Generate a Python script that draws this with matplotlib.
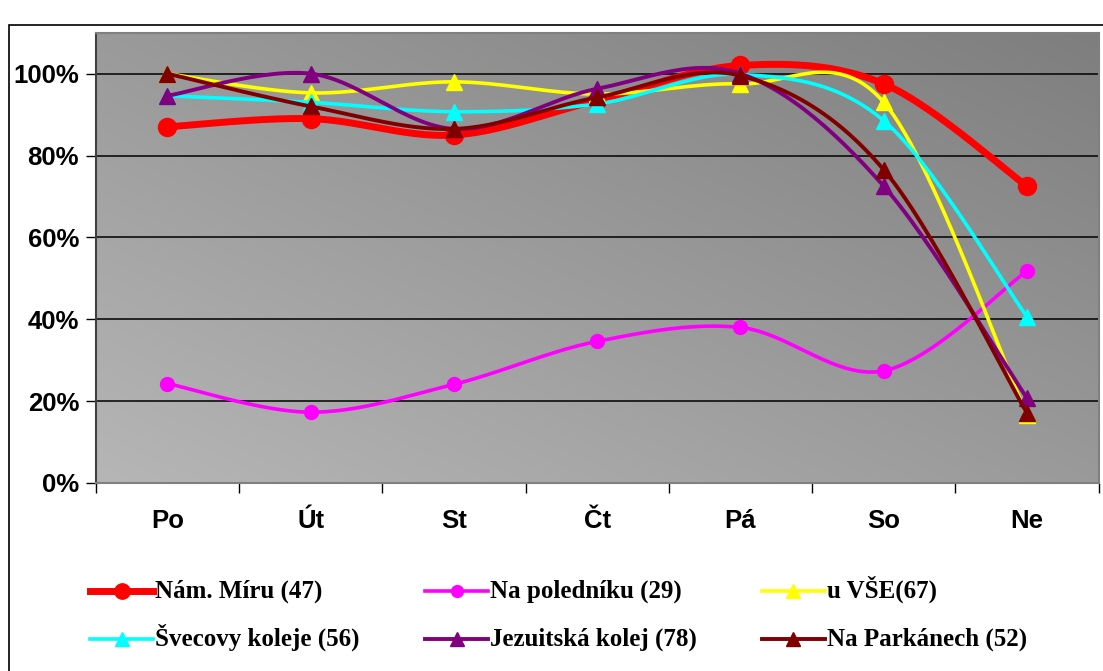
import numpy as np
import matplotlib
matplotlib.use('Agg')
from matplotlib import pyplot as plt
from matplotlib.patches import Rectangle
from matplotlib.lines import Line2D

plt.rcParams['font.family'] = ['Liberation Sans', 'DejaVu Sans']

days = ['Po', 'Út', 'St', 'Čt', 'Pá', 'So', 'Ne']

nam_miru = [87, 89, 85, 93.5, 102, 97.5, 72.5]
na_poledniku = [24.3, 17.3, 24.1, 34.6, 38, 27.4, 51.8]
u_vse = [100, 95.3, 98, 95, 97.5, 93, 16.5]
svecovy = [94.6, 93, 90.7, 92.6, 99.8, 88.5, 40.6]
jezuitska = [94.6, 100, 86.5, 96.3, 100, 72.5, 20.7]
parkanech = [100, 92, 86.5, 94.2, 99.5, 76.5, 17]

series = [
    ('Nám. Míru (47)', nam_miru, '#ff0000', 'o', 5.0, 13),
    ('Na poledníku (29)', na_poledniku, '#ff00ff', 'o', 2.6, 10),
    ('u VŠE(67)', u_vse, '#ffff00', '^', 2.6, 12),
    ('Švecovy koleje (56)', svecovy, '#00ffff', '^', 2.6, 12),
    ('Jezuitská kolej (78)', jezuitska, '#800080', '^', 2.8, 12),
    ('Na Parkánech (52)', parkanech, '#800000', '^', 2.8, 12),
]

W, H = 1103, 671


def smooth(x, y, n=30):
    # excel-like smoothed line: catmull-rom segments as cubic bezier
    x = np.asarray(x, dtype=float)
    y = np.asarray(y, dtype=float)
    px, py = [], []
    t = np.linspace(0, 1, n)
    for i in range(len(x) - 1):
        i0 = max(i - 1, 0)
        i3 = min(i + 2, len(x) - 1)
        c1x = x[i] + (x[i + 1] - x[i0]) / 6
        c1y = y[i] + (y[i + 1] - y[i0]) / 6
        c2x = x[i + 1] - (x[i3] - x[i]) / 6
        c2y = y[i + 1] - (y[i3] - y[i]) / 6
        bx = (1 - t) ** 3 * x[i] + 3 * (1 - t) ** 2 * t * c1x + 3 * (1 - t) * t ** 2 * c2x + t ** 3 * x[i + 1]
        by = (1 - t) ** 3 * y[i] + 3 * (1 - t) ** 2 * t * c1y + 3 * (1 - t) * t ** 2 * c2y + t ** 3 * y[i + 1]
        px.extend(bx)
        py.extend(by)
    return np.array(px), np.array(py)


fig = plt.figure(figsize=(W / 100, H / 100), dpi=100)
fig.patches.append(Rectangle((9 / W, -0.1), 1.2, 1 - 25 / H + 0.1, transform=fig.transFigure,
                             fill=False, edgecolor='black', linewidth=1.2))

ax = fig.add_axes([95.7 / W, 1 - 483 / H, (1098.7 - 95.7) / W, (483 - 32.7) / H])
xs = np.arange(len(days))

# grey diagonal gradient background, light bottom-left -> dark top-right
gx, gy = np.meshgrid(np.linspace(0, 1, 200), np.linspace(0, 1, 200))
shade = (182 - 56 * (gx + gy) / 2) / 255
img = np.dstack([shade, shade, shade])
ax.imshow(img, extent=[-0.5, 6.5, 0, 110], origin='lower', aspect='auto', zorder=0,
          interpolation='bilinear')

for val in [20, 40, 60, 80, 100]:
    ax.axhline(val, color='black', linewidth=1.1, zorder=1)

for label, vals, color, marker, lw, ms in series:
    sx, sy = smooth(xs, vals)
    ax.plot(sx, sy, color=color, linewidth=lw, zorder=2, solid_capstyle='round')
    ax.plot(xs, vals, linestyle='none', marker=marker, markersize=ms, color=color,
            markeredgecolor=color, zorder=2, clip_on=False)

ax.set_xlim(-0.5, 6.5)
ax.set_ylim(0, 110)
ax.set_yticks([0, 20, 40, 60, 80, 100])
ax.set_yticklabels(['0%', '20%', '40%', '60%', '80%', '100%'], fontsize=18.5, fontweight='bold')
ax.set_xticks(np.arange(-0.5, 7, 1))
ax.set_xticklabels([])
ax.set_xticks(xs, minor=True)
ax.set_xticklabels(days, minor=True, fontsize=18.5, fontweight='bold')
ax.tick_params(axis='x', which='minor', length=0, pad=19)
ax.tick_params(axis='x', which='major', length=7, width=1, direction='out')
ax.tick_params(axis='y', length=7, width=1, direction='out', pad=5)
for s in ax.spines.values():
    s.set_color('#808080')
    s.set_linewidth(1.5)
ax.spines['left'].set_color('#404040')

# legend drawn by hand so both rows line up: 3 columns, 2 rows
col_x = [90, 425, 762]
row_y = [591, 639]
hl = 63
for k, (label, vals, color, marker, lw, ms) in enumerate(series):
    r, c = divmod(k, 3)
    x0 = col_x[c] / W
    x1 = (col_x[c] + hl) / W
    y = 1 - row_y[r] / H
    fig.add_artist(Line2D([x0, x1], [y, y], transform=fig.transFigure, color=color, linewidth=lw))
    fig.add_artist(Line2D([(x0 + x1) / 2], [y], transform=fig.transFigure, linestyle='none',
                          marker=marker, markersize=ms * 0.85, color=color, markeredgecolor=color))
    fig.text(x1 + 2 / W, 1 - (row_y[r] + 7) / H, label, va='baseline', ha='left',
             family='Liberation Serif', fontweight='bold', fontsize=18)

fig.savefig('out.png', dpi=100)
